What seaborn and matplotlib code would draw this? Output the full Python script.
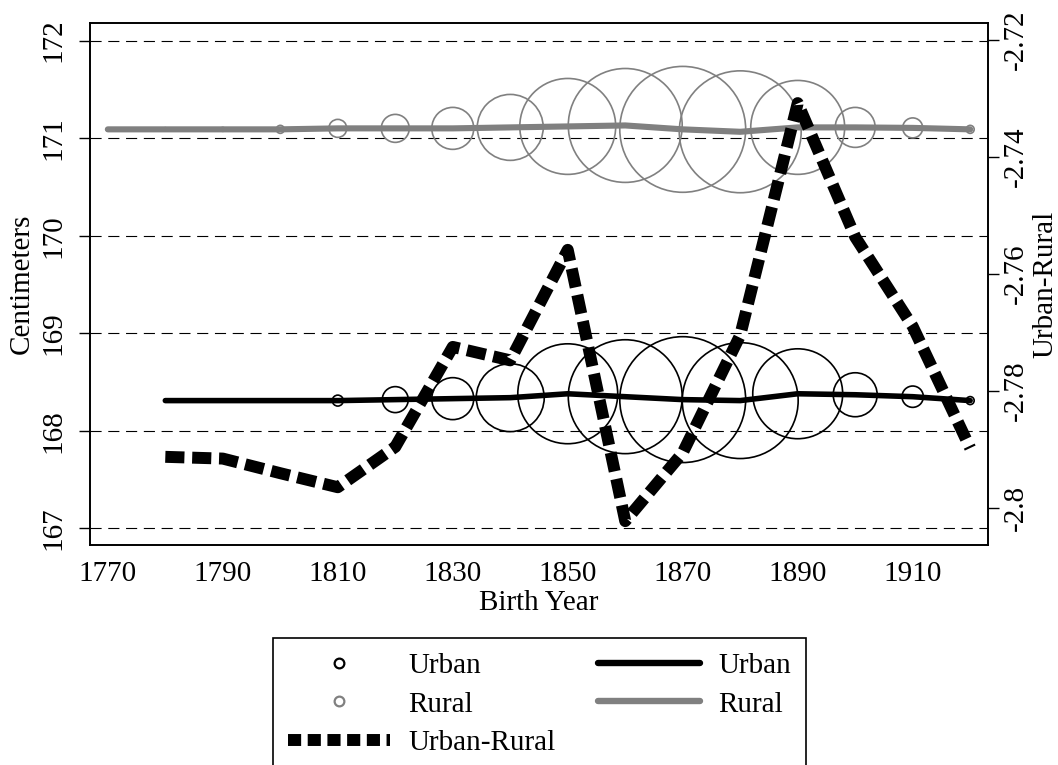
import numpy as np
import pandas as pd
import matplotlib
matplotlib.use("Agg")
import matplotlib.pyplot as plt
from matplotlib.lines import Line2D
import seaborn as sns

# ---------------- data ----------------
years_rural = [1770, 1780, 1790, 1800, 1810, 1820, 1830, 1840, 1850, 1860,
               1870, 1880, 1890, 1900, 1910, 1920]
rural_height = [171.09, 171.09, 171.09, 171.09, 171.10, 171.10, 171.10, 171.11,
                171.12, 171.13, 171.09, 171.065, 171.11, 171.11, 171.105, 171.09]
rural_weight = [2, 3, 4, 16, 81, 196, 441, 1089, 2304, 3249, 3969, 3721, 2209,
                400, 100, 16]

years_urban = [1780, 1790, 1800, 1810, 1820, 1830, 1840, 1850, 1860, 1870,
               1880, 1890, 1900, 1910, 1920]
urban_height = [168.31, 168.31, 168.31, 168.31, 168.32, 168.33, 168.34, 168.38,
                168.35, 168.32, 168.31, 168.38, 168.37, 168.35, 168.31]
urban_weight = [2, 2, 2, 30, 169, 441, 1156, 2500, 3249, 3969, 3364, 2025, 484,
                114, 16]

years_diff = years_urban
diff_values = [-2.7913, -2.7916, -2.7941, -2.7965, -2.7896, -2.7725, -2.7748,
               -2.7559, -2.8023, -2.7906, -2.7705, -2.7308, -2.7537, -2.7690,
               -2.7898]

x_ticks = [1770, 1790, 1810, 1830, 1850, 1870, 1890, 1910]
left_ticks = [167, 168, 169, 170, 171, 172]
right_ticks = [-2.8, -2.78, -2.76, -2.74, -2.72]
right_tick_labels = ["-2.8", "-2.78", "-2.76", "-2.74", "-2.72"]

# ---------------- style ----------------
sns.set_style("white")
plt.rcParams["font.family"] = ["Liberation Serif", "DejaVu Serif"]
FS = 21
plt.rcParams.update({
    "font.size": FS,
    "text.color": "black",
    "axes.labelcolor": "black",
    "xtick.color": "black",
    "ytick.color": "black",
})
GRAY = "#808080"

df_r = pd.DataFrame({"year": years_rural, "height": rural_height, "n": rural_weight})
df_u = pd.DataFrame({"year": years_urban, "height": urban_height, "n": urban_weight})
df_d = pd.DataFrame({"year": years_diff, "diff": diff_values})

fig = plt.figure(figsize=(10.58, 7.65), dpi=100)
ax = fig.add_axes([90 / 1058, 1 - 545 / 765, 898 / 1058, 522 / 765])

nmax = max(max(rural_weight), max(urban_weight))
smax = 2.07 * nmax

# bubbles
sns.scatterplot(data=df_r, x="year", y="height", size="n", sizes=(0, smax),
                size_norm=(0, nmax), facecolors="none", edgecolors=GRAY,
                linewidth=1.2, legend=False, ax=ax, zorder=2)
sns.scatterplot(data=df_u, x="year", y="height", size="n", sizes=(0, smax),
                size_norm=(0, nmax), facecolors="none", edgecolors="black",
                linewidth=1.2, legend=False, ax=ax, zorder=2)

# fitted lines
sns.lineplot(data=df_r, x="year", y="height", color=GRAY, lw=4.4,
             solid_capstyle="round", ax=ax, zorder=3)
sns.lineplot(data=df_u, x="year", y="height", color="black", lw=4.0,
             solid_capstyle="round", ax=ax, zorder=3)

ax.set_xlim(1766.9, 1923.1)
ax.set_ylim(166.83, 172.18)
ax.set_xticks(x_ticks)
ax.set_yticks(left_ticks)
ax.grid(axis="y", color="black", lw=0.8, ls=(0, (10, 6)))
ax.grid(axis="x", visible=False)
ax.set_xlabel("Birth Year", labelpad=2)
ax.set_ylabel("Centimeters", labelpad=4)
ax.tick_params(axis="both", direction="out", length=8, width=1, color="black",
               labelsize=FS, labelcolor="black")
ax.tick_params(axis="y", labelrotation=90, pad=9)
for lab in ax.get_yticklabels():
    lab.set_va("center")

# difference on right axis
ax2 = ax.twinx()
sns.lineplot(data=df_d, x="year", y="diff", color="black", lw=8.6,
             ls=(0, (1.6, 0.65)), dash_capstyle="butt", ax=ax2, zorder=4)
ax2.set_ylim(-2.80638, -2.7171)
ax2.set_yticks(right_ticks)
ax2.set_yticklabels(right_tick_labels)
ax2.set_ylabel("Urban-Rural", labelpad=2, color="black")
ax2.tick_params(axis="y", direction="out", length=8, width=1, color="black",
                labelsize=FS, labelrotation=90, pad=3, labelcolor="black")
for lab in ax2.get_yticklabels():
    lab.set_va("center")
ax2.grid(False)

for a in (ax, ax2):
    for sp in a.spines.values():
        sp.set_visible(True)
        sp.set_color("black")
        sp.set_linewidth(1.2)

# legend
handles = [
    Line2D([], [], marker="o", ls="none", mfc="none", mec="black", ms=7, mew=1.6),
    Line2D([], [], marker="o", ls="none", mfc="none", mec=GRAY, ms=7, mew=1.6),
    Line2D([], [], color="black", lw=8.6, ls=(0, (1.1, 0.55)), dash_capstyle="butt"),
    Line2D([], [], color="black", lw=4.6),
    Line2D([], [], color=GRAY, lw=4.6),
]
labels = ["Urban", "Rural", "Urban-Rural", "Urban", "Rural"]
leg = fig.legend(handles, labels, loc="upper left",
                 bbox_to_anchor=(273 / 1058, 1 - 638 / 765, 533 / 1058, 0),
                 mode="expand", ncol=2, fontsize=FS, frameon=True,
                 fancybox=False, framealpha=1, edgecolor="black",
                 handlelength=3.5, handletextpad=0.65, borderpad=0.5,
                 labelspacing=0.42, columnspacing=1.5, borderaxespad=0,
                 labelcolor="black")
leg.get_frame().set_linewidth(1.2)

fig.savefig("out.png", dpi=100)
